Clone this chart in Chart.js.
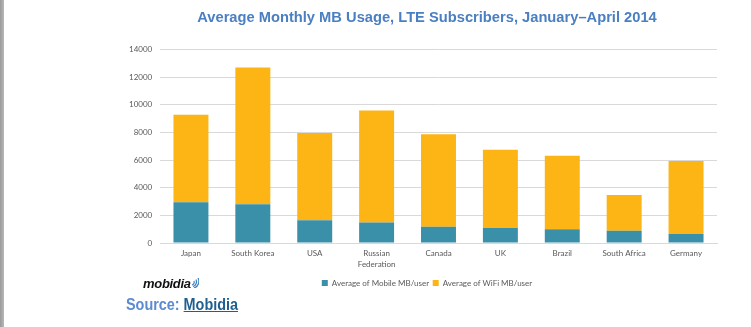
<!DOCTYPE html>
<html>
<head>
<meta charset="utf-8">
<script src="https://cdn.jsdelivr.net/npm/chart.js@4.4.1/dist/chart.umd.min.js"></script>
<style>
  html, body { margin: 0; padding: 0; background: #fff; }
  #wrap { position: relative; width: 751px; height: 327px; overflow: hidden; }
  #c { position: absolute; left: 0; top: 0; }
  #edge { position: absolute; left: 0; top: 0; width: 4px; height: 327px;
          background: linear-gradient(to right, #9a9a9a, #b8b8b8); }
  #logo { position: absolute; left: 143px; top: 276px; font-family: "Liberation Sans", Arial, sans-serif;
          font-weight: bold; font-style: italic; font-size: 13px; color: #111; letter-spacing: -0.3px; }
  #logo svg { vertical-align: top; }
  #source { position: absolute; left: 126px; top: 296px; font-family: "Liberation Sans", Arial, sans-serif;
            font-weight: bold; font-size: 16px; color: #5b8bd0; transform: scaleX(0.9); transform-origin: 0 0; white-space: nowrap; }
  #source a { color: #1f5f8f; text-decoration: underline; }
</style>
</head>
<body>
<div id="wrap">
  <canvas id="c" width="751" height="327"></canvas>
  <div id="edge"></div>
  <div id="logo">mobidia<svg width="8" height="12" viewBox="0 0 8 12"><path d="M1 9 A3 3 0 0 0 3 5" stroke="#3c7fc0" stroke-width="1.2" fill="none"/><path d="M2 10.5 A5 5 0 0 0 5 3.5" stroke="#3c7fc0" stroke-width="1.2" fill="none"/><path d="M3 12 A7 7 0 0 0 7 2" stroke="#3c7fc0" stroke-width="1.2" fill="none"/></svg></div>
  <div id="source">Source: <a href="#">Mobidia</a></div>
</div>
<script>
const titleText = 'Average Monthly MB Usage, LTE Subscribers, January\u2013April 2014';
const categories = ['Japan', 'South Korea', 'USA', ['Russian', 'Federation'], 'Canada', 'UK', 'Brazil', 'South Africa', 'Germany'];
const seriesNames = ['Average of Mobile MB/user', 'Average of WiFi MB/user'];
const mobileMB = [2950, 2800, 1650, 1480, 1170, 1080, 1000, 880, 650];
const wifiMB = [6330, 9900, 6310, 8110, 6700, 5670, 5320, 2590, 5280];
const yTicks = [0, 2000, 4000, 6000, 8000, 10000, 12000, 14000];

const tickFont = { family: 'Lato, "Open Sans", sans-serif', size: 8, lineHeight: 1.4 };
const legendFont = { family: 'Lato, "Open Sans", sans-serif', size: 8 };

new Chart(document.getElementById('c'), {
  type: 'bar',
  data: {
    labels: categories,
    datasets: [
      { label: seriesNames[0], data: mobileMB, backgroundColor: '#3b90a9', borderWidth: 0 },
      { label: seriesNames[1], data: wifiMB, backgroundColor: '#fdb515', borderWidth: 0 }
    ]
  },
  options: {
    responsive: false,
    animation: false,
    devicePixelRatio: 1,
    layout: { padding: { left: 137, right: 34, top: 0, bottom: 30 } },
    datasets: { bar: { categoryPercentage: 1, barPercentage: 0.565 } },
    plugins: {
      title: {
        display: true,
        text: titleText,
        color: '#4a7fc1',
        font: { family: '"Liberation Sans", Arial, sans-serif', size: 14.7, weight: 'bold' },
        padding: { top: 9, bottom: 23 }
      },
      legend: {
        position: 'bottom',
        labels: {
          boxWidth: 6, boxHeight: 6, padding: 3.6, color: '#595959',
          font: legendFont
        }
      },
      tooltip: { enabled: false }
    },
    scales: {
      x: {
        stacked: true,
        grid: { display: false, drawTicks: false },
        border: { display: true, color: '#d9d9d9', width: 1 },
        ticks: { color: '#595959', font: tickFont, padding: 5, maxRotation: 0, autoSkip: false }
      },
      y: {
        stacked: true,
        min: 0, max: 14000,
        afterBuildTicks: (s) => { s.ticks = yTicks.map(v => ({ value: v })); },
        afterFit: (s) => { s.width = 23; },
        grid: { color: '#d9d9d9', drawTicks: false },
        border: { display: false },
        ticks: {
          color: '#595959', font: legendFont, mirror: true, crossAlign: 'far', padding: -31,
          callback: (v) => String(v)
        }
      }
    }
  }
});
</script>
</body>
</html>
